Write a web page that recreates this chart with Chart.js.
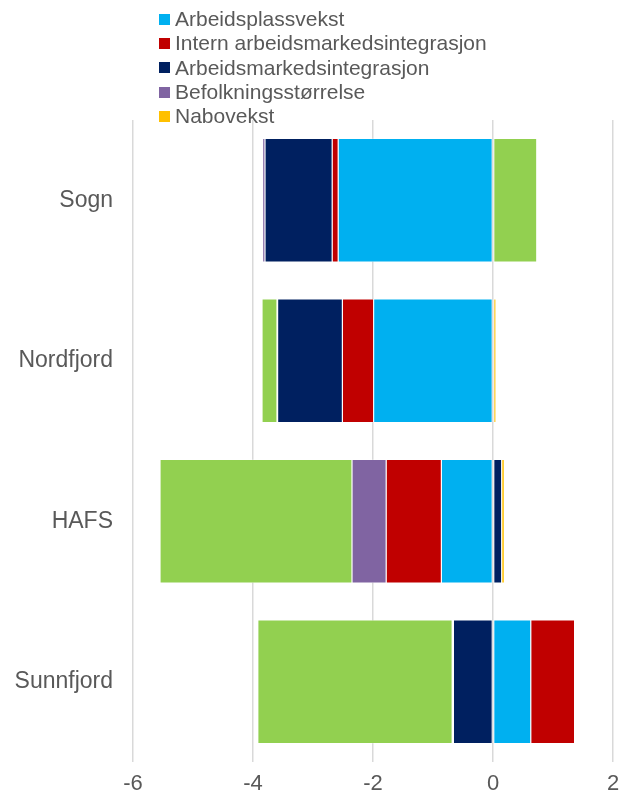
<!DOCTYPE html>
<html>
<head>
<meta charset="utf-8">
<script src="https://cdn.jsdelivr.net/npm/chart.js@4"></script>
<style>
  body { margin: 0; background: #fff; }
  #wrap { position: relative; width: 622px; height: 801px; }
  #legend { position: absolute; left: 159px; top: 7px; font-family: "Liberation Sans", Arial, sans-serif; font-size: 21px; color: #595959; line-height: 24.3px; }
  #legend .item { display: flex; align-items: center; white-space: nowrap; }
  #legend .box { width: 11px; height: 11px; margin-right: 5px; }
</style>
</head>
<body>
<div id="wrap">
  <canvas id="myChart" width="622" height="801"></canvas>
  <div id="legend"></div>
</div>
<script>
var categories = ["Sogn", "Nordfjord", "HAFS", "Sunnfjord"];
var seriesNames = ["Arbeidsplassvekst", "Intern arbeidsmarkedsintegrasjon", "Arbeidsmarkedsintegrasjon",
    "Befolkningsstørrelse", "Nabovekst", "Bostedsattraktivitet"];
var arbeidsplassvekst = [-2.58, -1.99, -0.86, 0.63];
var internIntegrasjon = [-0.10, -0.52, -0.92, 0.73];
var arbeidsmarkedsintegrasjon = [-1.12, -1.08, 0.145, -0.66];
var befolkningsstorrelse = [-0.04, -0.01, -0.57, -0.02];
var nabovekst = [0, 0.05, 0.045, 0];
var bostedsattraktivitet = [0.73, -0.25, -3.2, -3.24];
var xTicks = [-6, -4, -2, 0, 2];

var colors = ["#00B0F0", "#C00000", "#002060", "#8064A2", "#FFC000", "#92D050"];
var values = [arbeidsplassvekst, internIntegrasjon, arbeidsmarkedsintegrasjon,
    befolkningsstorrelse, nabovekst, bostedsattraktivitet];
var shownInLegend = [true, true, true, true, true, false];

var datasets = seriesNames.map(function (name, i) {
    return {
        label: name,
        data: values[i],
        backgroundColor: colors[i],
        borderColor: "#ffffff",
        borderWidth: 0.6,
        borderSkipped: false,
        barPercentage: 0.77,
        categoryPercentage: 1.0
    };
});

var font = "'Liberation Sans', Arial, sans-serif";

var myChart = new Chart("myChart", {
    type: "bar",
    data: {
        labels: categories,
        datasets: datasets
    },
    options: {
        indexAxis: "y",
        responsive: false,
        animation: false,
        layout: { padding: { top: 120, right: 0, left: 0, bottom: 0 } },
        plugins: {
            legend: { display: false },
            tooltip: { enabled: false }
        },
        scales: {
            x: {
                stacked: true,
                min: -6,
                max: 2,
                afterBuildTicks: function (scale) {
                    scale.ticks = xTicks.map(function (v) { return { value: v }; });
                },
                afterFit: function (scale) {
                    scale.height = 39;
                    scale.paddingRight = 9;
                },
                grid: { color: "#d9d9d9", lineWidth: 1.5, drawTicks: false },
                border: { display: false },
                ticks: { color: "#595959", font: { family: font, size: 22 }, padding: 9 }
            },
            y: {
                stacked: true,
                afterFit: function (scale) { scale.width = 133; },
                grid: { display: false, drawTicks: false },
                border: { display: false },
                ticks: { color: "#595959", font: { family: font, size: 23 }, padding: 20 }
            }
        }
    }
});

// legend as a plain list, one item per line
var legendHtml = "";
seriesNames.forEach(function (name, i) {
    if (!shownInLegend[i]) return;
    legendHtml += "<div class='item'><span class='box' style='background:" + colors[i] + "'></span>" + name + "</div>";
});
document.getElementById("legend").innerHTML = legendHtml;
</script>
</body>
</html>
